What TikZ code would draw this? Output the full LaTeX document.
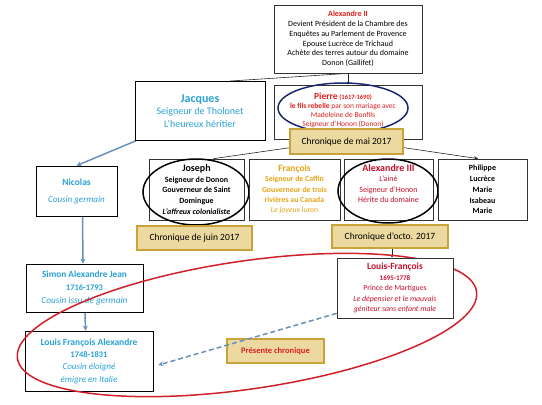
\documentclass[tikz,border=0pt]{standalone}
\usepackage{fontspec}
\setmainfont{Carlito}
\usetikzlibrary{arrows.meta}
\definecolor{redA}{HTML}{E0201E}
\definecolor{crim}{HTML}{C8102E}
\definecolor{skyb}{HTML}{2AA2D6}
\definecolor{orng}{HTML}{E8A317}
\definecolor{navyE}{HTML}{1A2A6C}
\definecolor{parch}{HTML}{ECD9A0}
\definecolor{goldb}{HTML}{C9A23A}
\definecolor{lineb}{HTML}{6A8FBA}
\definecolor{ellred}{HTML}{D0202A}
\newcommand\myfs[2]{\fontsize{#1}{#2}\selectfont}
\pgfdeclarelayer{bg}
\pgfsetlayers{bg,main}
\begin{document}
\begin{tikzpicture}[x=1pt,y=-1pt,
  box/.style={draw=black!80, line width=0.7pt, fill=white, align=center, inner sep=0pt},
  chron/.style={draw=goldb, line width=1.6pt, fill=parch, align=center, inner sep=0pt, font=\myfs{9.5}{11}},
  conn/.style={draw=black!85, line width=0.6pt},
  blueconn/.style={draw=lineb, line width=1.5pt, -{Stealth[length=5pt,width=5pt]}},
  oval/.style={draw, line width=1.5pt}]
\useasboundingbox (0,0) rectangle (542,405);

% top
\node[box, minimum width=148pt, minimum height=68pt, font=\myfs{8}{9.8}] (a2) at (348,39)
 {{\bfseries\color{redA}Alexandre II}\\Devient Président de la Chambre des\\Enquêtes au Parlement de Provence\\Epouse Lucrèce de Trichaud\\Achète des terres autour du domaine\\Donon (Gallifet)};

\node[box, draw=black, line width=0.9pt, minimum width=130pt, minimum height=59pt, text=skyb, font=\myfs{10}{12.8}] (jacques) at (200,111)
 {{\bfseries\myfs{12}{14}Jacques}\\Seigneur de Tholonet\\L'heureux héritier};

\node[box, minimum width=148pt, minimum height=54pt] (pierre) at (348,112) {};
\node[text=redA, align=center, inner sep=0pt, font=\myfs{7.5}{9}] (ptext) at (343,110)
 {{\bfseries\myfs{9.5}{10}Pierre} {\bfseries\myfs{6.5}{9}(1617-1690)}\\{\bfseries le fils rebelle} par son mariage avec\\Madeleine de Bonfils\\Seigneur d'Honon (Donon)};
\draw[oval, navyE] (343,108) ellipse [x radius=65, y radius=25];
\node[chron, minimum width=113pt, minimum height=25pt] (cmai) at (346.5,141.5) {Chronique de mai 2017};

% children row
\node[box, minimum width=95pt, minimum height=61pt, font=\bfseries\myfs{8}{10.8}] (joseph) at (196.5,189.5)
 {{\myfs{10}{11}Joseph}\\Seigneur de Donon\\Gouverneur de Saint\\Domingue\\\textit{L'affreux colonialiste}};
\draw[oval, black] (196,192) ellipse [x radius=53, y radius=33];

\node[box, minimum width=91pt, minimum height=61pt, text=orng, font=\bfseries\myfs{7.8}{10.3}] (francois) at (294.5,189.5)
 {{\myfs{9.5}{11}François}\\Seigneur de Caffin\\Gouverneur de trois\\rivières au Canada\\{\mdseries\itshape Le joyeux luron}};

\node[box, minimum width=89pt, minimum height=61pt, text=crim, font=\myfs{8}{10.3}] (alex3) at (388.5,189.5)
 {{\bfseries\myfs{10}{11}Alexandre III}\\L'ainé\\Seigneur d'Honon\\Hérite du domaine\\[2pt]};
\draw[oval, black] (388,191) ellipse [x radius=50, y radius=32];

\node[box, minimum width=89pt, minimum height=61pt, font=\bfseries\myfs{8}{10.8}] (philippe) at (482.5,189.5)
 {Philippe\\Lucrèce\\Marie\\Isabeau\\Marie};

\node[chron, minimum width=115pt, minimum height=24pt] (cjuin) at (194.5,238) {Chronique de juin 2017};
\node[chron, minimum width=116pt, minimum height=23pt] (coct) at (390,236.5) {Chronique d'octo. 2017};

% left column
\node[box, draw=black, minimum width=81pt, minimum height=50pt, text=skyb, font=\myfs{9}{11}] (nicolas) at (76.5,191)
 {{\bfseries\myfs{9.5}{11}Nicolas}\\[6pt]\textit{Cousin germain}};
\node[box, draw=black, minimum width=117pt, minimum height=48pt, text=skyb, font=\myfs{9.3}{13}] (simon) at (84.5,288)
 {{\bfseries Simon Alexandre Jean}\\{\bfseries\myfs{8.5}{13}1716-1793}\\\textit{Cousin issu de germain}};
\node[box, draw=black, minimum width=128pt, minimum height=60pt, text=skyb, font=\myfs{9}{12.3}] (lfa) at (89,361)
 {{\bfseries\myfs{9.5}{12}Louis François Alexandre}\\{\bfseries\myfs{8.5}{12}1748-1831}\\\textit{Cousin éloigné}\\\textit{émigre en Italie}};

% red ellipse
\draw[ellred, line width=1.5pt, rotate around={8.3:(247,325)}] (247,325) ellipse [x radius=232, y radius=64];

\node[box, minimum width=116pt, minimum height=60pt, text=crim, font=\myfs{7.8}{10.5}] (lf) at (395,288)
 {{\bfseries\myfs{9.5}{10}Louis-François}\\{\bfseries\myfs{7}{10}1695-1778}\\Prince de Martigues\\\textit{Le dépensier et le mauvais}\\\textit{géniteur sans enfant male}};

\node[chron, minimum width=97pt, minimum height=24pt, text=redA, font=\bfseries\myfs{8.5}{10}] (pres) at (275.5,351) {Présente chronique};

% connectors on background
\begin{pgfonlayer}{bg}
\draw[conn, -{Stealth[length=3pt,width=3pt]}] (a2.south) -- (pierre.north);
\draw[conn] (a2.south) -- ([xshift=30pt]jacques.north);
\draw[conn] (pierre.south) -- ([xshift=17pt]joseph.north);
\draw[conn, -{Stealth[length=4pt,width=4pt]}] (pierre.south) -- ([xshift=-4.5pt]philippe.north);
\draw[blueconn] ([xshift=1pt]jacques.south west) -- (nicolas.north);
\draw[blueconn] ([xshift=6pt]nicolas.south) -- ([xshift=-1.5pt]simon.north);
\draw[blueconn] ([xshift=0.5pt]simon.south) -- ([xshift=-3.5pt]lfa.north);
\draw[conn, -{Stealth[length=3pt,width=3pt]}] ([xshift=2pt]coct.south) -- ([xshift=-3pt]lf.north);
\end{pgfonlayer}
\draw[lineb, line width=1.5pt, dash pattern=on 5pt off 3pt, -{Stealth[length=5pt,width=5pt]}] ([yshift=5pt]lf.south west) -- ([xshift=5pt,yshift=-4pt]lfa.east);
\end{tikzpicture}
\end{document}
